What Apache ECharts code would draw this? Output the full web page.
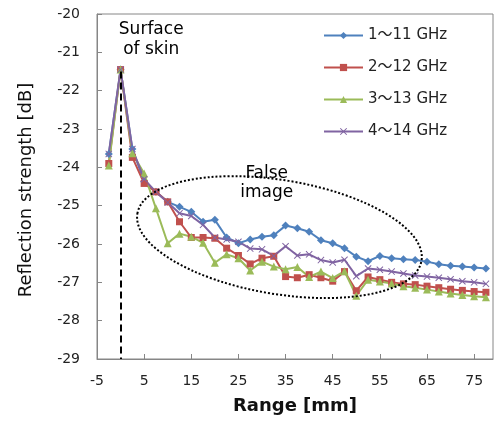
<!DOCTYPE html>
<html><head><meta charset="utf-8">
<script src="https://cdn.jsdelivr.net/npm/echarts@6/dist/echarts.min.js"></script>
<style>html,body{margin:0;padding:0;background:#fff}#c{width:497px;height:421px}</style>
</head><body><div id="c"></div>
<script>
const rangeMm = [-2.5,0,2.5,5,7.5,10,12.5,15,17.5,20,22.5,25,27.5,30,32.5,35,37.5,40,42.5,45,47.5,50,52.5,55,57.5,60,62.5,65,67.5,70,72.5,75,77.5];
const band1 = [-23.65,-21.45,-23.52,-24.37,-24.64,-24.9,-25.03,-25.16,-25.42,-25.37,-25.83,-25.98,-25.88,-25.81,-25.77,-25.52,-25.59,-25.68,-25.9,-25.98,-26.11,-26.33,-26.45,-26.31,-26.37,-26.4,-26.42,-26.46,-26.53,-26.57,-26.59,-26.61,-26.64];
const band2 = [-23.9,-21.45,-23.74,-24.42,-24.64,-24.9,-25.42,-25.83,-25.83,-25.85,-26.11,-26.3,-26.52,-26.37,-26.32,-26.85,-26.88,-26.8,-26.88,-26.97,-26.72,-27.22,-26.86,-26.93,-27.0,-27.04,-27.06,-27.1,-27.14,-27.18,-27.21,-27.24,-27.26];
const band3 = [-23.95,-21.45,-23.63,-24.16,-25.07,-25.98,-25.73,-25.81,-25.97,-26.49,-26.27,-26.37,-26.69,-26.46,-26.59,-26.66,-26.6,-26.86,-26.72,-26.89,-26.71,-27.35,-26.93,-26.98,-27.03,-27.1,-27.14,-27.19,-27.24,-27.29,-27.33,-27.36,-27.39];
const band4 = [-23.65,-21.45,-23.52,-24.31,-24.64,-24.92,-25.2,-25.27,-25.5,-25.83,-25.88,-25.94,-26.12,-26.14,-26.31,-26.06,-26.3,-26.27,-26.42,-26.48,-26.41,-26.84,-26.64,-26.67,-26.72,-26.77,-26.82,-26.85,-26.88,-26.92,-26.97,-27.0,-27.04];
const seriesNames = ['1～11 GHz','2～12 GHz','3～13 GHz','4～14 GHz'];
const seriesValues = [band1, band2, band3, band4];
const colors = ['#4F81BD','#C0504D','#9BBB59','#8064A2'];
const symbols = ['diamond','rect','triangle','path://M0,1L1,0L5,4L9,0L10,1L6,5L10,9L9,10L5,6L1,10L0,9L4,5Z'];
const symbolSizes = [8,7,8,7];
const xAxisMin = -5, xAxisMax = 79, xStep = 10;
const yAxisMin = -29, yAxisMax = -20, yStep = 1;

const font = 'DejaVu Sans';
const chart = echarts.init(document.getElementById('c'), null, {renderer:'canvas'});
const series = seriesValues.map((vals, i) => ({
  name: seriesNames[i],
  type: 'line',
  data: rangeMm.map((x, j) => [x, vals[j]]),
  symbol: symbols[i],
  symbolSize: symbolSizes[i],
  showAllSymbol: true,
  lineStyle: {color: colors[i], width: 2},
  itemStyle: {color: colors[i]},
  emphasis: {disabled: true},
  animation: false
}));
series[0].markLine = {
  silent: true, symbol: 'none', animation: false,
  label: {show: false},
  lineStyle: {color: '#000', type: [7,4], width: 2},
  data: [[{coord: [0, -21.5]}, {coord: [0, yAxisMin]}]]
};
chart.setOption({
  animation: false,
  grid: {left: 97, right: 4, top: 14, bottom: 62, show: true, borderColor: '#868686', borderWidth: 1},
  legend: {
    left: 318, top: 23, orient: 'vertical', itemWidth: 39, itemHeight: 9, itemGap: 17,
    textStyle: {fontFamily: font + ', Noto Sans CJK JP', fontSize: 15, color: '#222'},
    data: seriesNames
  },
  xAxis: {
    type: 'value', min: xAxisMin, max: xAxisMax, interval: xStep,
    name: 'Range [mm]', nameLocation: 'middle', nameGap: 38,
    nameTextStyle: {fontFamily: font, fontSize: 18, fontWeight: 'bold', color: '#111'},
    axisLine: {onZero: false, lineStyle: {color: '#868686', width: 1}},
    axisTick: {inside: true, length: 5, lineStyle: {color: '#868686'}},
    axisLabel: {fontFamily: font, fontSize: 14, color: '#222', margin: 15, showMaxLabel: false},
    splitLine: {show: false}
  },
  yAxis: {
    type: 'value', min: yAxisMin, max: yAxisMax, interval: yStep,
    name: 'Reflection strength [dB]', nameLocation: 'middle', nameGap: 62,
    nameTextStyle: {fontFamily: font, fontSize: 18, color: '#111', padding: [0, 7, 0, 0]},
    axisLine: {show: true, onZero: false, lineStyle: {color: '#868686', width: 1}},
    axisTick: {show: true, inside: true, length: 5, lineStyle: {color: '#868686'}},
    axisLabel: {fontFamily: font, fontSize: 14, color: '#222', margin: 17},
    splitLine: {show: false}
  },
  series: series
});
const c = chart.convertToPixel({gridIndex: 0}, [33.7, -25.82]);
const s = chart.convertToPixel({gridIndex: 0}, [6.5, -20.67]);
const f = chart.convertToPixel({gridIndex: 0}, [31, -24.42]);
chart.setOption({
  graphic: [
    {type: 'ellipse', x: c[0], y: c[1], rotation: -0.164, shape: {cx: 0, cy: 0, rx: 144, ry: 57},
     style: {fill: 'none', stroke: '#000', lineWidth: 2, lineDash: [2,2]}, silent: true, z: 10},
    {type: 'text', x: s[0], y: s[1], style: {text: 'Surface\nof skin', font: '17px "DejaVu Sans"', fill: '#000', align: 'center', verticalAlign: 'middle', lineHeight: 20}, z: 10},
    {type: 'text', x: f[0], y: f[1], style: {text: 'False\nimage', font: '17px "DejaVu Sans"', fill: '#000', align: 'center', verticalAlign: 'middle', lineHeight: 19}, z: 10}
  ]
});
</script></body></html>
